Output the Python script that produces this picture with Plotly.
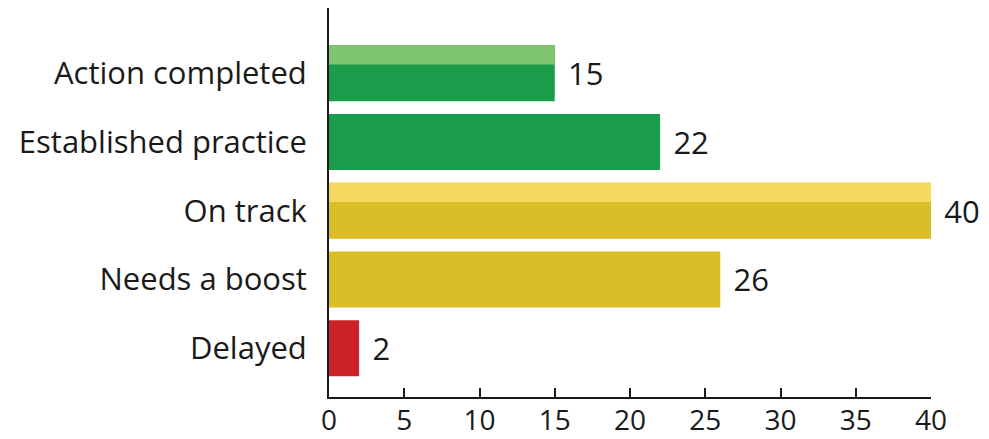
import plotly.graph_objects as go

categories = ["Delayed", "Needs a boost", "On track", "Established practice", "Action completed"]
values = [2, 26, 40, 22, 15]
bar_colors = ["#cc2127", "#dbbd27", "#dbbd27", "#1b9c4a", "#1b9c4a"]
highlight_values = [None, None, 40, None, 15]
highlight_colors = ["#cc2127", "#dbbd27", "#f5d95e", "#1b9c4a", "#80c56f"]
x_ticks = [0, 5, 10, 15, 20, 25, 30, 35, 40]

ypos = list(range(len(categories)))
FONT = "Open Sans"
FS = 31

fig = go.Figure()
fig.add_trace(go.Bar(
    x=values, y=ypos, orientation="h",
    marker=dict(color=bar_colors, line=dict(width=0)),
    width=0.815,
    text=["\u2009\u2009" + str(v) for v in values], textposition="outside",
    textfont=dict(family=FONT, size=FS, color="#1a1a1a"),
    cliponaxis=False, hoverinfo="skip",
))
fig.add_trace(go.Bar(
    x=highlight_values, y=ypos, orientation="h",
    marker=dict(color=highlight_colors, line=dict(width=0)),
    width=0.28, offset=0.1275,
    hoverinfo="skip",
))

fig.update_layout(
    barmode="overlay",
    width=989, height=439,
    margin=dict(l=329, r=58, t=8, b=42),
    paper_bgcolor="white", plot_bgcolor="white",
    showlegend=False,
    font=dict(family=FONT, size=FS, color="#1a1a1a"),
    xaxis=dict(
        range=[0, 40], tickvals=x_ticks, ticktext=[str(t) for t in x_ticks],
        showgrid=False, zeroline=False, automargin=False,
        showline=True, linecolor="#1a1a1a", linewidth=2,
        ticks="inside", ticklen=9, tickwidth=2, tickcolor="#1a1a1a",
        ticklabelstandoff=-3,
        tickfont=dict(family=FONT, size=28, color="#1a1a1a"),
    ),
    yaxis=dict(
        range=[-0.71, 4.95], tickvals=ypos, ticktext=categories,
        showgrid=False, zeroline=False, automargin=False,
        showline=True, linecolor="#1a1a1a", linewidth=2,
        ticks="", ticklabelstandoff=14,
        tickfont=dict(family=FONT, size=FS, color="#1a1a1a"),
    ),
)

fig.write_html("out.html")
